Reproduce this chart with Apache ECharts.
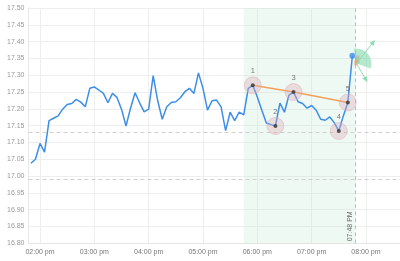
<!DOCTYPE html>
<html><head><meta charset="utf-8">
<script src="https://cdn.jsdelivr.net/npm/echarts@6/dist/echarts.min.js"></script>
<style>html,body{margin:0;padding:0;background:#fff}#c{width:400px;height:261px}</style>
</head><body><div id="c"></div>
<script>
// Data (5-minute prices starting 01:50 pm)
const startTime = '13:50';
const stepMinutes = 5;
const prices = [
 17.038,17.050,17.097,17.071,17.165,17.172,17.179,17.199,17.213,17.216,
 17.228,17.220,17.206,17.261,17.265,17.256,17.246,17.218,17.246,17.234,
 17.199,17.149,17.202,17.248,17.218,17.191,17.199,17.299,17.224,17.169,
 17.206,17.219,17.221,17.233,17.251,17.261,17.246,17.307,17.261,17.196,
 17.224,17.226,17.206,17.135,17.190,17.165,17.190,17.182,17.261,17.270,
 17.235,17.196,17.158,17.153,17.149,17.217,17.190,17.241,17.250,17.221,
 17.216,17.202,17.210,17.196,17.169,17.166,17.176,17.159,17.134,17.179,
 17.219,17.358
];
const pivotIndex = [49, 54, 58, 68, 70];
const pivotLabels = ['1','2','3','4','5'];
const trendIndex = [49, 58, 70];
const hLines = [17.133, 16.994];
const cursorTime = '19:48';
const cursorLabel = '07:48 PM';
const areaStart = '17:45';
const axisMin = '13:47.3';
const axisMax = '20:37.6';
const yTicks = {min: 16.80, max: 17.50, interval: 0.05};
// angle tool: center, upper arm end, lower arm end  [time, price]
const fanCenter = ['19:49.5', 17.335];
const fanUpper = ['20:07.7', 17.397];
const fanLower = ['19:59.7', 17.288];

const day = new Date(2024, 0, 2, 0, 0, 0).getTime();
function t(s){ const p = s.split(':'); return day + (parseInt(p[0])*60 + parseFloat(p[1]))*60000; }
const t0 = t(startTime);
const times = prices.map((_, i) => t0 + i*stepMinutes*60000);
const line = prices.map((v, i) => [times[i], v]);
const pivots = pivotIndex.map((k, j) => [times[k], prices[k], pivotLabels[j]]);
const trend = trendIndex.map(k => [times[k], prices[k]]);

function fmt(v){
  const d = new Date(v); let h = d.getHours(); const m = d.getMinutes();
  const ap = h >= 12 ? 'pm' : 'am'; h = h % 12; if (h === 0) h = 12;
  return (h < 10 ? '0' : '') + h + ':' + (m < 10 ? '0' : '') + m + ' ' + ap;
}

const chart = echarts.init(document.getElementById('c'), null, {renderer: 'canvas'});
chart.setOption({
  animation: false,
  textStyle: {fontFamily: 'Liberation Sans, Arial, sans-serif'},
  grid: {left: 28.5, right: 0, top: 8, bottom: 17.7, containLabel: false},
  xAxis: {
    type: 'time', min: t(axisMin), max: t(axisMax),
    minInterval: 3600000, maxInterval: 3600000,
    axisLine: {show: true, lineStyle: {color: '#e6e6e6'}},
    axisTick: {show: false},
    axisLabel: {formatter: fmt, color: '#777', fontSize: 7, margin: 5, hideOverlap: false, showMinLabel: false, showMaxLabel: false},
    splitLine: {show: true, lineStyle: {color: '#eeeeee', width: 1}}
  },
  yAxis: {
    type: 'value', min: yTicks.min, max: yTicks.max, interval: yTicks.interval,
    axisLine: {show: true, lineStyle: {color: '#e6e6e6'}},
    axisTick: {show: false},
    axisLabel: {formatter: v => v.toFixed(2), color: '#999', fontSize: 7, margin: 4},
    splitLine: {show: true, lineStyle: {color: '#eeeeee', width: 1}}
  },
  series: [
    {
      type: 'line', data: line, showSymbol: false, symbol: 'none',
      lineStyle: {color: '#3d8ee8', width: 1.5}, z: 3,
      markArea: {silent: true, itemStyle: {color: 'rgba(190,230,212,0.25)'},
        data: [[{xAxis: t(areaStart)}, {xAxis: t(cursorTime)}]]},
      markLine: {silent: true, symbol: 'none', animation: false,
        data: [
          {yAxis: hLines[0], lineStyle: {color: '#cfcfcf', type: [4, 3], width: 1}, label: {show: false}},
          {yAxis: hLines[1], lineStyle: {color: '#cfcfcf', type: [4, 3], width: 1}, label: {show: false}},
          {xAxis: t(cursorTime), lineStyle: {color: '#bdbdbd', type: [4, 3], width: 1},
            label: {show: true, formatter: cursorLabel, position: 'insideStartTop', color: '#666', fontSize: 7, distance: 2}}
        ]}
    },
    {
      type: 'line', data: trend, symbol: 'none', lineStyle: {color: '#f5a05a', width: 1.5}, z: 4
    },
    {
      type: 'scatter', data: pivots, symbolSize: 17, z: 5,
      itemStyle: {color: 'rgba(222,170,182,0.45)', borderColor: 'rgba(222,170,182,0.6)', borderWidth: 1}
    },
    {
      type: 'scatter', data: pivots, symbolSize: 4, z: 6,
      itemStyle: {color: '#333'},
      label: {show: true, position: 'top', distance: 8, formatter: p => p.data[2], color: '#555', fontSize: 7.5}
    },
    {
      type: 'scatter', data: [line[line.length - 1]], symbolSize: 6, z: 6,
      itemStyle: {color: '#3d8ee8'}
    },
    {
      type: 'custom', z: 7,
      data: [[t(fanCenter[0]), fanCenter[1], t(fanUpper[0]), fanUpper[1], t(fanLower[0]), fanLower[1]]],
      renderItem: function (params, api) {
        const c = api.coord([api.value(0), api.value(1)]);
        const u = api.coord([api.value(2), api.value(3)]);
        const l = api.coord([api.value(4), api.value(5)]);
        const au = Math.atan2(u[1] - c[1], u[0] - c[0]);
        const al = Math.atan2(l[1] - c[1], l[0] - c[0]);
        const g = '#8fdcb4';
        function head(p, a){
          const s = 3.5;
          return {type: 'polygon', shape: {points: [
            [p[0] + Math.cos(a)*s, p[1] + Math.sin(a)*s],
            [p[0] + Math.cos(a + 2.3)*s, p[1] + Math.sin(a + 2.3)*s],
            [p[0] + Math.cos(a - 2.3)*s, p[1] + Math.sin(a - 2.3)*s]]}, style: {fill: g}};
        }
        return {type: 'group', children: [
          {type: 'sector', shape: {cx: c[0], cy: c[1], r0: 0, r: 15, startAngle: -1.75, endAngle: 0.35, clockwise: true},
            style: {fill: 'rgba(120,215,165,0.55)'}},
          {type: 'rect', shape: {x: c[0] - 1, y: c[1] - 8, width: 4, height: 8}, style: {fill: 'rgba(170,170,140,0.5)'}},
          {type: 'rect', shape: {x: c[0] - 2, y: c[1] - 3, width: 3, height: 5}, style: {fill: 'rgba(245,150,80,0.8)'}},
          {type: 'line', shape: {x1: c[0], y1: c[1], x2: u[0], y2: u[1]}, style: {stroke: g, lineWidth: 1}},
          {type: 'line', shape: {x1: c[0], y1: c[1], x2: l[0], y2: l[1]}, style: {stroke: g, lineWidth: 1}},
          head(u, au), head(l, al)
        ]};
      }
    }
  ]
});
</script></body></html>
